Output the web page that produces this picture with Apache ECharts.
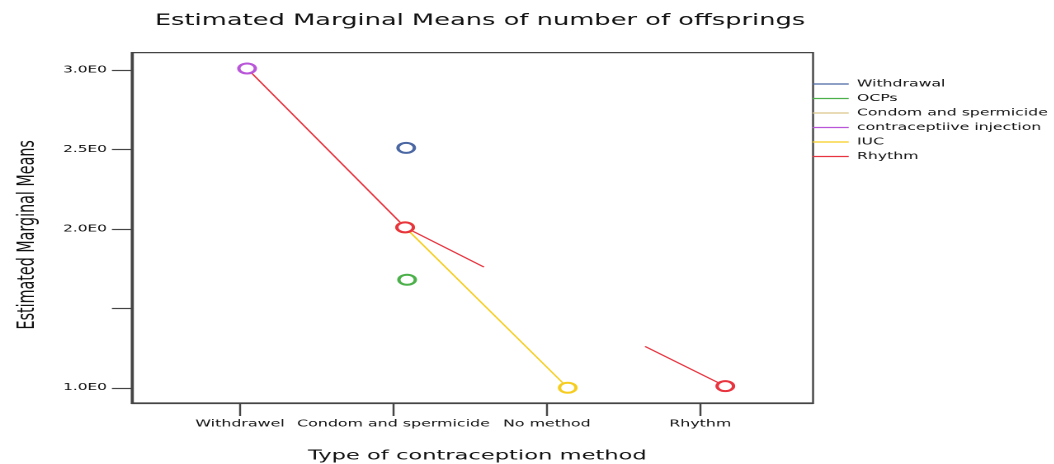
<!DOCTYPE html>
<html>
<head>
<meta charset="utf-8">
<script src="https://cdn.jsdelivr.net/npm/echarts@6/dist/echarts.min.js"></script>
<style>
  html, body { margin: 0; padding: 0; background: #fff; overflow: hidden; }
  #chart { height: 464px; transform-origin: 0 0; }
</style>
</head>
<body>
<div id="chart"></div>
<script>
// the original picture is stretched sideways, so the chart is drawn narrow and scaled in x
const STRETCH = 1.65
const W = 1054 / STRETCH

const categories = ['Withdrawel', 'Condom and spermicide', 'No method', 'Rhythm']
const categoryPos = [1, 2, 3, 4]
const yTickValues = [1.0, 1.5, 2.0, 2.5, 3.0]
const yTickLabels = ['1.0E0', '', '2.0E0', '2.5E0', '3.0E0']

const seriesNames = ['Withdrawal', 'OCPs', 'Condom and spermicide', 'contraceptiive injection', 'IUC', 'Rhythm']

// x positions (1 = first category tick)
const withdrawalX = [2.083]
const withdrawalY = [2.51]
const ocpsX = [2.089]
const ocpsY = [1.68]
const condomX = []
const condomY = []
const injectionX = [1.046]
const injectionY = [3.01]
const iucX = [2.076, 3.136]
const iucY = [2.01, 1.0]
const rhythmX = [1.046, 2.076, 2.59, 3.1, 3.64, 4.163]
const rhythmY = [3.01, 2.01, 1.76, '-', 1.26, 1.01]
const rhythmMarker = [false, true, false, false, false, true]

const colors = ['#4a67a3', '#4cb04a', '#d9c58a', '#b955d8', '#f6cd1e', '#e8343f']

const zip = (xs, ys) => xs.map((x, i) => [x, ys[i]])

const el = document.getElementById('chart')
el.style.width = W + 'px'
el.style.transform = 'scaleX(' + STRETCH + ')'

const chart = echarts.init(el, null, { renderer: 'canvas', devicePixelRatio: 2 })

const font = 'DejaVu Sans'
const textColor = '#111'
const gridLeft = 131.7 / STRETCH
const gridRight = 812.7 / STRETCH

function lineSeries(i, data) {
  return {
    name: seriesNames[i],
    type: 'line',
    data: data,
    symbol: 'emptyCircle',
    symbolSize: 10,
    color: colors[i],
    lineStyle: { width: 1.1, color: colors[i] },
    itemStyle: { color: colors[i], borderWidth: 1.0 },
    emphasis: { disabled: true },
    animation: false
  }
}

const rhythm = lineSeries(5, zip(rhythmX, rhythmY))
rhythm.symbolSize = (v, p) => rhythmMarker[p.dataIndex] ? 10 : 0
rhythm.connectNulls = false

chart.setOption({
  animation: false,
  title: {
    text: 'Estimated Marginal Means of number of offsprings',
    left: 480 / STRETCH,
    textAlign: 'center',
    top: 13,
    padding: 0,
    textStyle: { fontFamily: font, fontSize: 15.6, fontWeight: 'normal', color: textColor }
  },
  legend: {
    orient: 'vertical',
    left: gridRight,
    top: 78,
    padding: 0,
    data: seriesNames,
    icon: 'rect',
    itemWidth: 36 / STRETCH,
    itemHeight: 1.2,
    itemGap: 2.5,
    textStyle: { fontFamily: font, fontSize: 9.5, color: textColor, lineHeight: 12 }
  },
  grid: {
    left: gridLeft,
    right: W - gridRight,
    top: 52.6,
    bottom: 61,
    outerBoundsMode: 'none',
    show: true,
    borderColor: '#444',
    borderWidth: 1.2
  },
  xAxis: {
    type: 'value',
    min: 0.294,
    max: 4.735,
    name: 'Type of contraception method',
    nameLocation: 'middle',
    nameGap: 46,
    nameTextStyle: { fontFamily: font, fontSize: 13.7, color: textColor, padding: [0, 0, 0, 6] },
    axisLine: { show: true, lineStyle: { color: '#444', width: 1.2 } },
    axisTick: { show: true, customValues: categoryPos, length: 13, lineStyle: { color: '#444', width: 1.2 } },
    axisLabel: {
      customValues: categoryPos,
      margin: 16,
      fontFamily: font,
      fontSize: 9.6,
      color: textColor,
      formatter: v => categories[Math.round(v) - 1]
    },
    splitLine: { show: false }
  },
  yAxis: {
    type: 'value',
    min: 0.904,
    max: 3.11,
    name: 'Estimated Marginal Means',
    nameLocation: 'middle',
    nameGap: 56,
    nameTextStyle: { fontFamily: font, fontSize: 14.3, color: textColor, padding: [0, 14, 0, 0] },
    axisLine: { show: true, lineStyle: { color: '#444', width: 1.2 } },
    axisTick: { show: true, customValues: yTickValues, length: 12, lineStyle: { color: '#444', width: 1.2 } },
    axisLabel: {
      customValues: yTickValues,
      margin: 15,
      fontFamily: font,
      fontSize: 9.3,
      color: textColor,
      formatter: v => yTickLabels[yTickValues.indexOf(v)]
    },
    splitLine: { show: false }
  },
  series: [
    lineSeries(0, zip(withdrawalX, withdrawalY)),
    lineSeries(1, zip(ocpsX, ocpsY)),
    lineSeries(2, zip(condomX, condomY)),
    lineSeries(3, zip(injectionX, injectionY)),
    lineSeries(4, zip(iucX, iucY)),
    rhythm
  ]
})
</script>
</body>
</html>
